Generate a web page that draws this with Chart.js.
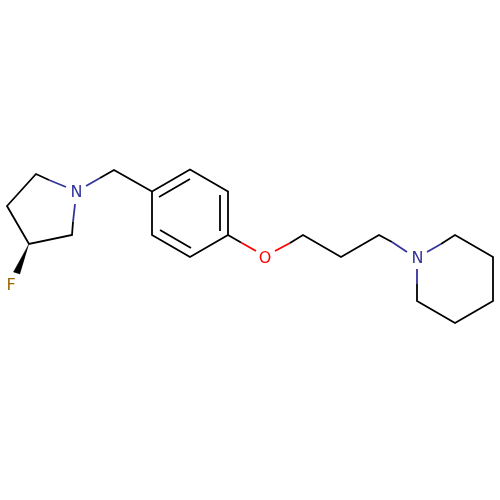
<!DOCTYPE html>
<html>
<head>
<meta charset="utf-8">
<style>
  html, body { margin: 0; padding: 0; background: #fff; }
  canvas { display: block; }
</style>
<script src="https://cdn.jsdelivr.net/npm/chart.js@4"></script>
</head>
<body>
<canvas id="molecule" width="500" height="500"></canvas>
<script>
// bonds as polylines, x/y
const blackBonds = [
  [[49, 180], [36, 174], [7, 206], [29, 244], [72, 235], [73, 222]],
  [[100, 178], [114, 170], [152, 191.5], [190, 169.5], [228, 191.5], [228, 235], [190, 257], [152, 235], [152, 191.5]],
  [[159, 197], [190, 179]],
  [[220, 195], [220, 231]],
  [[160, 230], [191, 248]],
  [[228, 235], [241, 242.5]],
  [[290, 243], [303, 235], [341, 257], [379, 235], [392, 242]],
  [[441, 244], [455, 235], [493, 257], [493, 301], [455, 323], [417, 301], [417, 284]]
];
const blueBonds = [
  [[49, 180], [66, 187]],
  [[73, 222], [75, 204]],
  [[86, 186], [100, 178]],
  [[392, 242], [407, 252]],
  [[427, 252], [441, 244]],
  [[417, 284], [417, 269]]
];
const redBonds = [
  [[241, 242.5], [256, 251]],
  [[275, 251], [290, 243]]
];
const wedge = [[29, 244], [13.5, 272], [20, 274]];

const atomLabels = ['N', 'O', 'N', 'F'];
const atomX = [76.5, 265, 417.5, 11];
const atomY = [193, 258.5, 258.5, 285.5];
const atomColors = ['#33339a', '#ff0000', '#33339a', '#996600'];

function toPoints(line) {
  return line.map(p => ({ x: p[0], y: p[1] }));
}

function bondSets(lines, color) {
  return lines.map(line => ({
    data: toPoints(line),
    showLine: true,
    borderColor: color,
    borderWidth: 1.8,
    pointRadius: 0,
    tension: 0,
    fill: false
  }));
}

const atomLabelPlugin = {
  id: 'atomLabels',
  afterDatasetsDraw(chart) {
    const c = chart.ctx;
    c.save();
    c.font = '16px "DejaVu Sans"';
    c.textAlign = 'center';
    c.textBaseline = 'middle';
    atomLabels.forEach((t, i) => {
      c.fillStyle = atomColors[i];
      c.fillText(t, chart.scales.x.getPixelForValue(atomX[i]), chart.scales.y.getPixelForValue(atomY[i]));
    });
    c.restore();
  }
};

new Chart(document.getElementById('molecule').getContext('2d'), {
  type: 'scatter',
  data: {
    datasets: [
      ...bondSets(blackBonds, '#000000'),
      ...bondSets(blueBonds, '#33339a'),
      ...bondSets(redBonds, '#ff0000'),
      {
        data: toPoints(wedge),
        showLine: true,
        borderColor: '#000000',
        backgroundColor: '#000000',
        borderWidth: 0.5,
        pointRadius: 0,
        tension: 0,
        fill: 'shape'
      }
    ]
  },
  options: {
    responsive: false,
    animation: false,
    layout: { padding: 0 },
    plugins: { legend: { display: false }, tooltip: { enabled: false } },
    scales: {
      x: { display: false, min: 0, max: 500 },
      y: { display: false, min: 0, max: 500, reverse: true }
    }
  },
  plugins: [atomLabelPlugin]
});
</script>
</body>
</html>
